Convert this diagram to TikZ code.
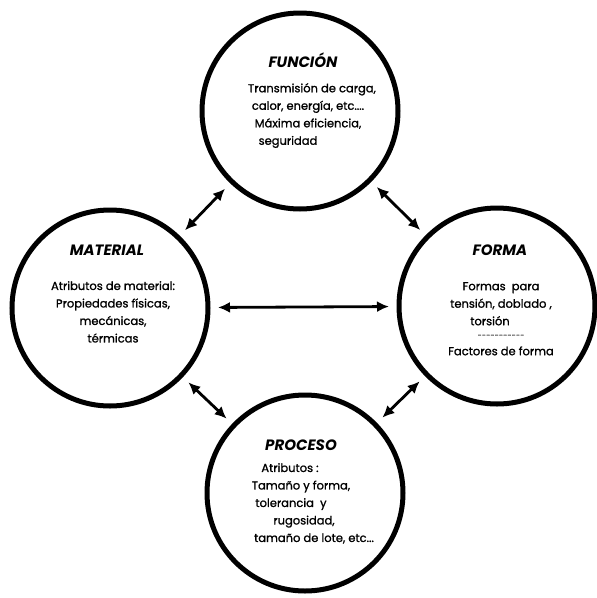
\documentclass[tikz,border=0pt]{standalone}
\usepackage{fontspec}
\setmainfont{Poppins}
\newfontfamily\bodyfont{Poppins}[FakeBold=1.2]
\usetikzlibrary{arrows.meta}
\newcommand{\dashrow}{{\fontsize{7}{7}\selectfont-\kern0.4pt-\kern0.4pt-\kern0.4pt-\kern0.4pt-\kern0.4pt-\kern0.4pt-\kern0.4pt-\kern0.4pt-\kern0.4pt-\kern0.4pt-}}
\begin{document}
\begin{tikzpicture}[x=1pt,y=-1pt,
  circ/.style={draw,circle,line width=5pt,minimum size=196pt,inner sep=0pt,outer sep=0pt},
  ttl/.style={font=\fontsize{15}{17}\selectfont\bfseries\itshape},
  body/.style={font=\bodyfont\fontsize{11.5}{17.5}\selectfont,align=center,inner sep=0pt},
  dbl/.style={line width=2.8pt,{Latex[length=12pt,width=11pt]}-{Latex[length=12pt,width=11pt]},shorten <=10pt,shorten >=10pt}]
\useasboundingbox (0,0) rectangle (597,598);
\node[circ] (fun) at (300,111) {};
\node[circ] (mat) at (110,308) {};
\node[circ] (for) at (497,306) {};
\node[circ] (pro) at (305,493) {};
\node[ttl] (funT) at (303,60) {FUNCIÓN};
\node[ttl] (matT) at (107,250) {MATERIAL};
\node[ttl] (forT) at (500,250) {FORMA};
\node[ttl] (proT) at (301,445) {PROCESO};
\node[body,anchor=north] (funB) at (308,83) {\hspace*{8pt}Transmisión de carga,\\calor, energía, etc....\\Máxima eficiencia,\\\hspace*{-40pt}seguridad};
\node[body,anchor=north] (matB) at (113,281) {Atributos de material:\\Propiedades físicas,\\mecánicas,\\térmicas};
\node[body,anchor=north] (forB) at (501,282) {Formas\ \ para\\tensión, doblado ,\\\hspace*{-22pt}torsión\\[-5pt]\dashrow\\[0pt]Factores de forma};
\node[body,anchor=north] (proB) at (301,463) {\hspace*{-22pt}Atributos :\\Tamaño y forma,\\\hspace*{-20pt}tolerancia\ \ y\\\hspace*{6pt}rugosidad,\\\hspace*{26pt}tamaño de lote, etc...};
\draw[dbl] (fun) -- (mat);
\draw[dbl] (fun) -- (for);
\draw[dbl] (mat) -- (for);
\draw[dbl] (mat) -- (pro);
\draw[dbl] (for) -- (pro);
\end{tikzpicture}
\end{document}
